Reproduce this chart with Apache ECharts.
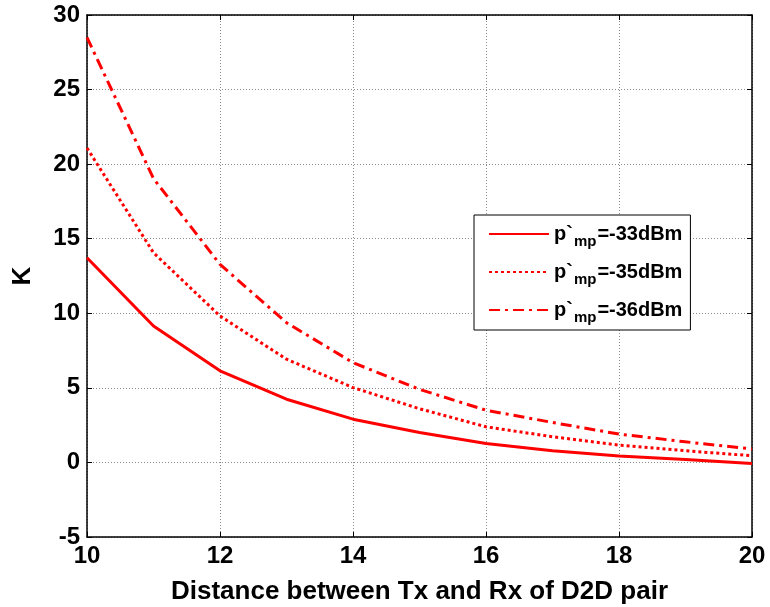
<!DOCTYPE html>
<html>
<head>
<meta charset="utf-8">
<script src="https://cdn.jsdelivr.net/npm/echarts@6/dist/echarts.min.js"></script>
<style>html,body{margin:0;padding:0;background:#fff;}#c{width:770px;height:607px;}</style>
</head>
<body>
<div id="c"></div>
<script>
var distances = [10, 11, 12, 13, 14, 15, 16, 17, 18, 19, 20];
var k33 = [13.72, 9.15, 6.14, 4.24, 2.90, 2.01, 1.27, 0.78, 0.43, 0.20, -0.07];
var k35 = [21.08, 14.06, 9.82, 6.92, 5.02, 3.60, 2.39, 1.72, 1.16, 0.78, 0.45];
var k36 = [28.5, 19.03, 13.28, 9.37, 6.69, 4.90, 3.50, 2.68, 1.90, 1.38, 0.90];
var seriesNames = ['-33dBm', '-35dBm', '-36dBm'];
var xTitle = 'Distance between Tx and Rx of D2D pair';
var yTitle = 'K';

function pairs(ys) { return distances.map(function (d, i) { return [d, ys[i]]; }); }

var FONT = '"Liberation Sans", Arial, sans-serif';
var chart = echarts.init(document.getElementById('c'));
var gridLine = { show: true, lineStyle: { color: '#8c8c8c', type: [1, 2], width: 1 } };
var lineStyles = [
  { color: '#ff0000', width: 3, type: 'solid' },
  { color: '#ff0000', width: 3, type: [3, 3] },
  { color: '#ff0000', width: 3, type: [11, 5, 3, 5] }
];
var dataSets = [k33, k35, k36];

chart.setOption({
  animation: false,
  backgroundColor: '#fff',
  grid: { left: 87, right: 18, top: 15, bottom: 70, containLabel: false, outerBoundsMode: 'none' },
  legend: {
    orient: 'vertical',
    left: 474, top: 215,
    padding: [9, 8, 5, 14],
    itemGap: 13,
    itemWidth: 60, itemHeight: 14,
    backgroundColor: '#fff',
    borderColor: '#000', borderWidth: 1,
    data: seriesNames,
    itemStyle: { opacity: 0 },
    formatter: function (n) { return '{a|p`}{s|mp}{a|=' + n + '}'; },
    textStyle: {
      color: '#000', fontFamily: FONT, fontWeight: 'bold', fontSize: 20,
      rich: {
        a: { fontFamily: FONT, fontWeight: 'bold', fontSize: 20, color: '#000' },
        s: { fontFamily: FONT, fontWeight: 'bold', fontSize: 15, color: '#000', padding: [15, 1, 0, 1] }
      }
    }
  },
  xAxis: [{
    type: 'value', min: 10, max: 20, interval: 2,
    name: xTitle, nameLocation: 'middle', nameGap: 42,
    nameTextStyle: { color: '#000', fontFamily: FONT, fontWeight: 'bold', fontSize: 26 },
    axisLine: { show: true, onZero: false, lineStyle: { color: '#000', width: 1.5 } },
    axisTick: { show: true, inside: true, length: 5, lineStyle: { color: '#000' } },
    axisLabel: { color: '#000', fontFamily: FONT, fontWeight: 'bold', fontSize: 24, margin: 7 },
    splitLine: gridLine
  }, {
    type: 'value', min: 10, max: 20, interval: 2, position: 'top',
    axisLine: { show: true, onZero: false, lineStyle: { color: '#000', width: 1.5 } },
    axisTick: { show: true, inside: true, length: 5, lineStyle: { color: '#000' } },
    axisLabel: { show: false }, splitLine: { show: false }
  }],
  yAxis: [{
    type: 'value', min: -5, max: 30, interval: 5,
    name: yTitle, nameLocation: 'middle', nameGap: 51, nameRotate: 90,
    nameTextStyle: { color: '#000', fontFamily: FONT, fontWeight: 'bold', fontSize: 26 },
    axisLine: { show: true, onZero: false, lineStyle: { color: '#000', width: 1.5 } },
    axisTick: { show: true, inside: true, length: 5, lineStyle: { color: '#000' } },
    axisLabel: { color: '#000', fontFamily: FONT, fontWeight: 'bold', fontSize: 24, margin: 7 },
    splitLine: gridLine
  }, {
    type: 'value', min: -5, max: 30, interval: 5, position: 'right',
    axisLine: { show: true, onZero: false, lineStyle: { color: '#000', width: 1.5 } },
    axisTick: { show: true, inside: true, length: 5, lineStyle: { color: '#000' } },
    axisLabel: { show: false }, splitLine: { show: false }
  }],
  series: seriesNames.map(function (n, i) {
    return {
      name: n, type: 'line', xAxisIndex: 0, yAxisIndex: 0,
      data: pairs(dataSets[i]), symbol: 'none', smooth: false,
      lineStyle: lineStyles[i], itemStyle: { color: '#ff0000' }
    };
  })
});
</script>
</body>
</html>
